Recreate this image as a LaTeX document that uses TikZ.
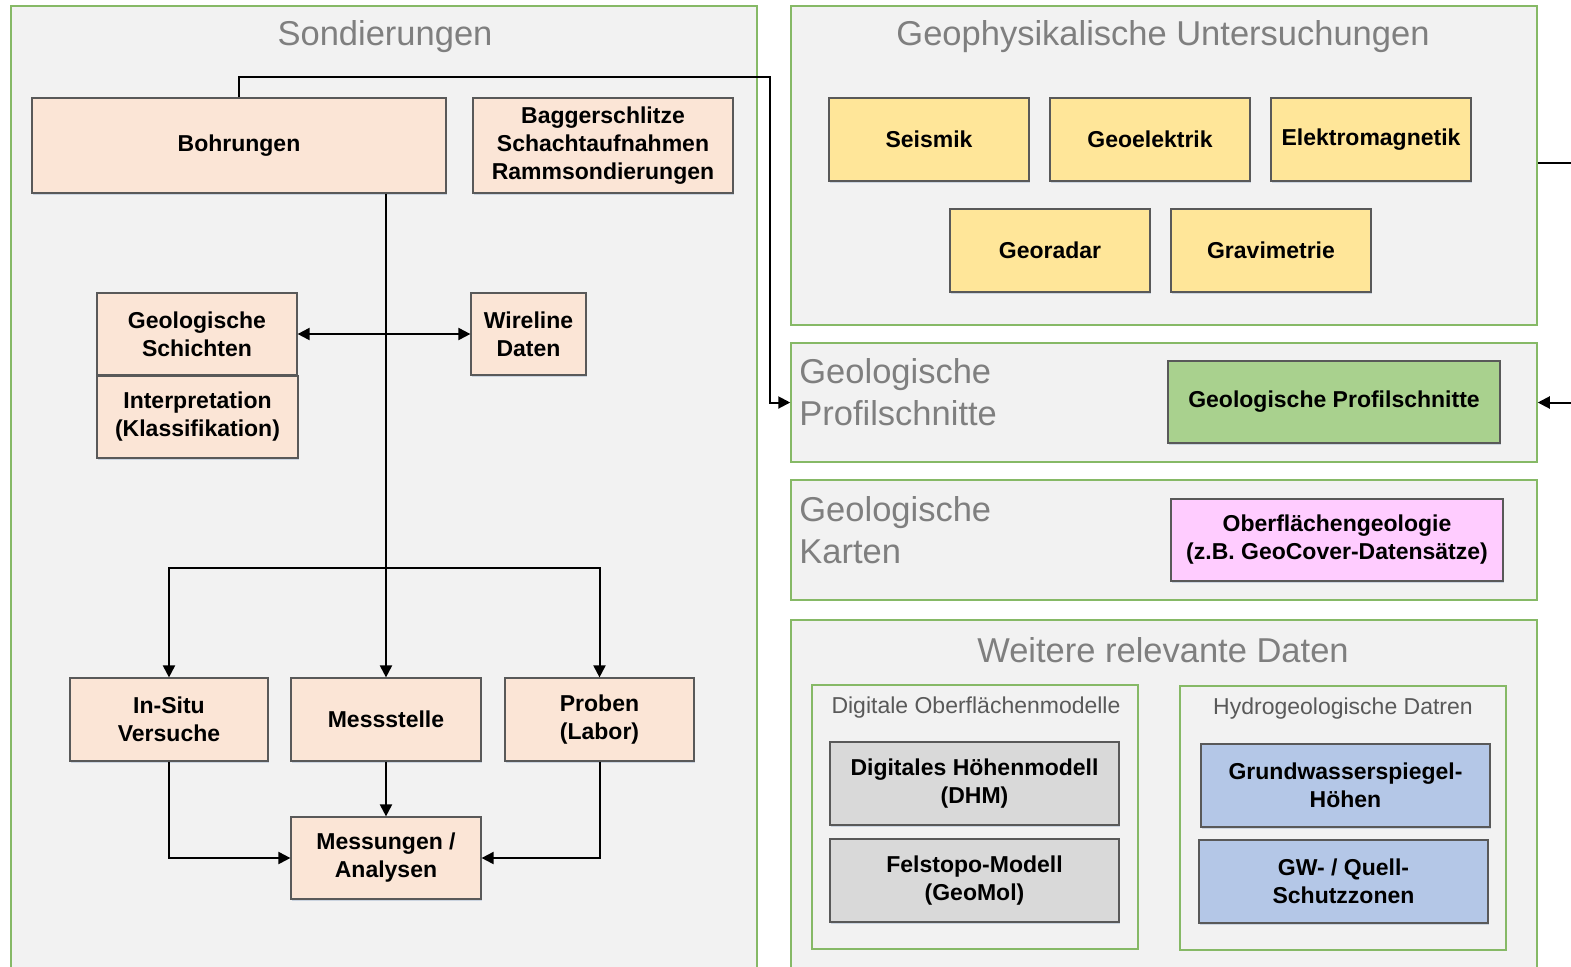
\documentclass[tikz,border=0pt]{standalone}
\usepackage{fontspec}
\setmainfont{Liberation Sans}
\usetikzlibrary{fit,shadows,arrows.meta}
\definecolor{panelfill}{HTML}{F2F2F2}
\definecolor{panelgreen}{HTML}{86B966}
\definecolor{boxline}{HTML}{595959}
\definecolor{titlegray}{HTML}{7F7F7F}
\definecolor{subgray}{HTML}{595959}
\definecolor{peach}{HTML}{FBE5D6}
\definecolor{yellowbox}{HTML}{FFE699}
\definecolor{greenbox}{HTML}{A9D18E}
\definecolor{pinkbox}{HTML}{FFCCFF}
\definecolor{graybox}{HTML}{D9D9D9}
\definecolor{bluebox}{HTML}{B4C7E7}
\definecolor{shadowcol}{HTML}{9DB0CC}
\begin{document}
\begin{tikzpicture}[x=0.5pt,y=-0.5pt,
  panel/.style={draw=panelgreen, line width=0.75pt, fill=panelfill, inner sep=0pt},
  sz/.style 2 args={minimum width=#1*0.5pt, minimum height=#2*0.5pt},
  box/.style={draw=boxline, line width=0.6pt, inner sep=0pt, align=center,
    font=\fontsize{11.5}{14}\selectfont\bfseries,
    drop shadow={shadow xshift=0.7pt, shadow yshift=-0.9pt, fill=shadowcol, opacity=0.45}},
  peachbox/.style={box, fill=peach},
  yelbox/.style={box, fill=yellowbox, sz={200}{83}},
  grnbox/.style={box, fill=greenbox},
  pnkbox/.style={box, fill=pinkbox},
  grybox/.style={box, fill=graybox, sz={289}{83}},
  blubox/.style={box, fill=bluebox, sz={289}{83}},
  bigtitle/.style={text=titlegray, font=\fontsize{17.25}{21}\selectfont, inner sep=0pt, align=left},
  subtitle/.style={text=subgray, font=\fontsize{11.5}{14}\selectfont, inner sep=0pt},
  arr/.style={line width=1pt, -{Triangle[length=6pt,width=6pt]}},
  arrboth/.style={line width=1pt, {Triangle[length=6pt,width=6pt]}-{Triangle[length=6pt,width=6pt]}},
  link/.style={line width=1pt}
]
\useasboundingbox (0,0) rectangle (1571,966);
\clip (0,0) rectangle (1571,966);

% ---- panels ----
\node[panel, fit={(11,6) (757,1000)}] (psond) {};
\node[panel, fit={(791,6) (1537,325)}] (pgeo) {};
\node[panel, fit={(791,343) (1537,462)}] (pprof) {};
\node[panel, fit={(791,480) (1537,600)}] (pkart) {};
\node[panel, fit={(791,620) (1537,1000)}] (pweit) {};
\node[panel, fit={(812,685) (1138,949)}] (pdom) {};
\node[panel, fit={(1180,686) (1506,950)}] (phyd) {};

% ---- panel titles ----
\node[bigtitle] (tsond) at (385,37) {Sondierungen};
\node[bigtitle] (tgeo) at (1163,37) {Geophysikalische Untersuchungen};
\node[bigtitle, anchor=west] (tprof) at (799,392) {Geologische\\Profilschnitte};
\node[bigtitle, anchor=west] (tkart) at (799,530) {Geologische\\Karten};
\node[bigtitle] (tweit) at (1163,650) {Weitere relevante Daten};
\node[subtitle] (tdom) at (976,708) {Digitale Oberflächenmodelle};
\node[subtitle] (thyd) at (1343,709) {Hydrogeologische Datren};

% ---- Sondierungen ----
\node[peachbox, sz={414}{95}] (bohr) at (239,145.5) {Bohrungen};
\node[peachbox, sz={260}{95}] (bagg) at (603,145.5) {Baggerschlitze\\Schachtaufnahmen\\Rammsondierungen};
\node[peachbox, sz={200}{82}] (schicht) at (197,334) {Geologische\\Schichten};
\node[peachbox, sz={201}{82}] (interp) at (197.5,417) {Interpretation\\(Klassifikation)};
\node[peachbox, sz={115}{82}] (wire) at (528.5,334) {Wireline\\Daten};
\node[peachbox, sz={198}{83}] (insitu) at (169,719.5) {In-Situ\\Versuche};
\node[peachbox, sz={190}{83}] (mess) at (386,719.5) {Messstelle};
\node[peachbox, sz={189}{83}] (proben) at (599.5,719.5) {Proben\\(Labor)};
\node[peachbox, sz={190}{82}] (messung) at (386,858) {Messungen /\\Analysen};

% ---- Geophysik ----
\node[yelbox] (seis) at (929,139.5) {Seismik};
\node[yelbox] (geoel) at (1150,139.5) {Geoelektrik};
\node[yelbox] (elmag) at (1371,139.5) {Elektromagnetik};
\node[yelbox] (georad) at (1050,250.5) {Georadar};
\node[yelbox] (grav) at (1271,250.5) {Gravimetrie};

% ---- Profilschnitte / Karten ----
\node[grnbox, sz={332}{82}] (profil) at (1334,402) {Geologische Profilschnitte};
\node[pnkbox, sz={332}{82}] (oberfl) at (1337,540) {Oberflächengeologie\\(z.B. GeoCover-Datensätze)};

% ---- weitere Daten ----
\node[grybox] (dhm) at (974.5,783.5) {Digitales Höhenmodell\\(DHM)};
\node[grybox] (felstopo) at (974.5,880.5) {Felstopo-Modell\\(GeoMol)};
\node[blubox] (gwsp) at (1345.5,785.5) {Grundwasserspiegel-\\Höhen};
\node[blubox] (gwq) at (1343.5,881.5) {GW- / Quell-\\Schutzzonen};

% ---- connectors ----
\coordinate (kbend) at (770,77);
\draw[arr] (bohr.north) |- (kbend) |- (pprof.west);
\draw[arr] (bohr.south -| mess.north) -- (mess.north);
\draw[arrboth] (schicht.east) -- (wire.west);
\coordinate (split) at (386,568);
\draw[arr] (split) -| (insitu.north);
\draw[arr] (split) -| (proben.north);
\draw[arr] (insitu.south) |- (messung.west);
\draw[arr] (proben.south) |- (messung.east);
\draw[arr] (mess.south) -- (messung.north);

\coordinate (rout) at (1580,163);
\coordinate (rin) at (1580,402.5);
\draw[link] (rout -| pgeo.east) -- (rout);
\draw[arr] (rin) -- (pprof.east);
\end{tikzpicture}
\end{document}
